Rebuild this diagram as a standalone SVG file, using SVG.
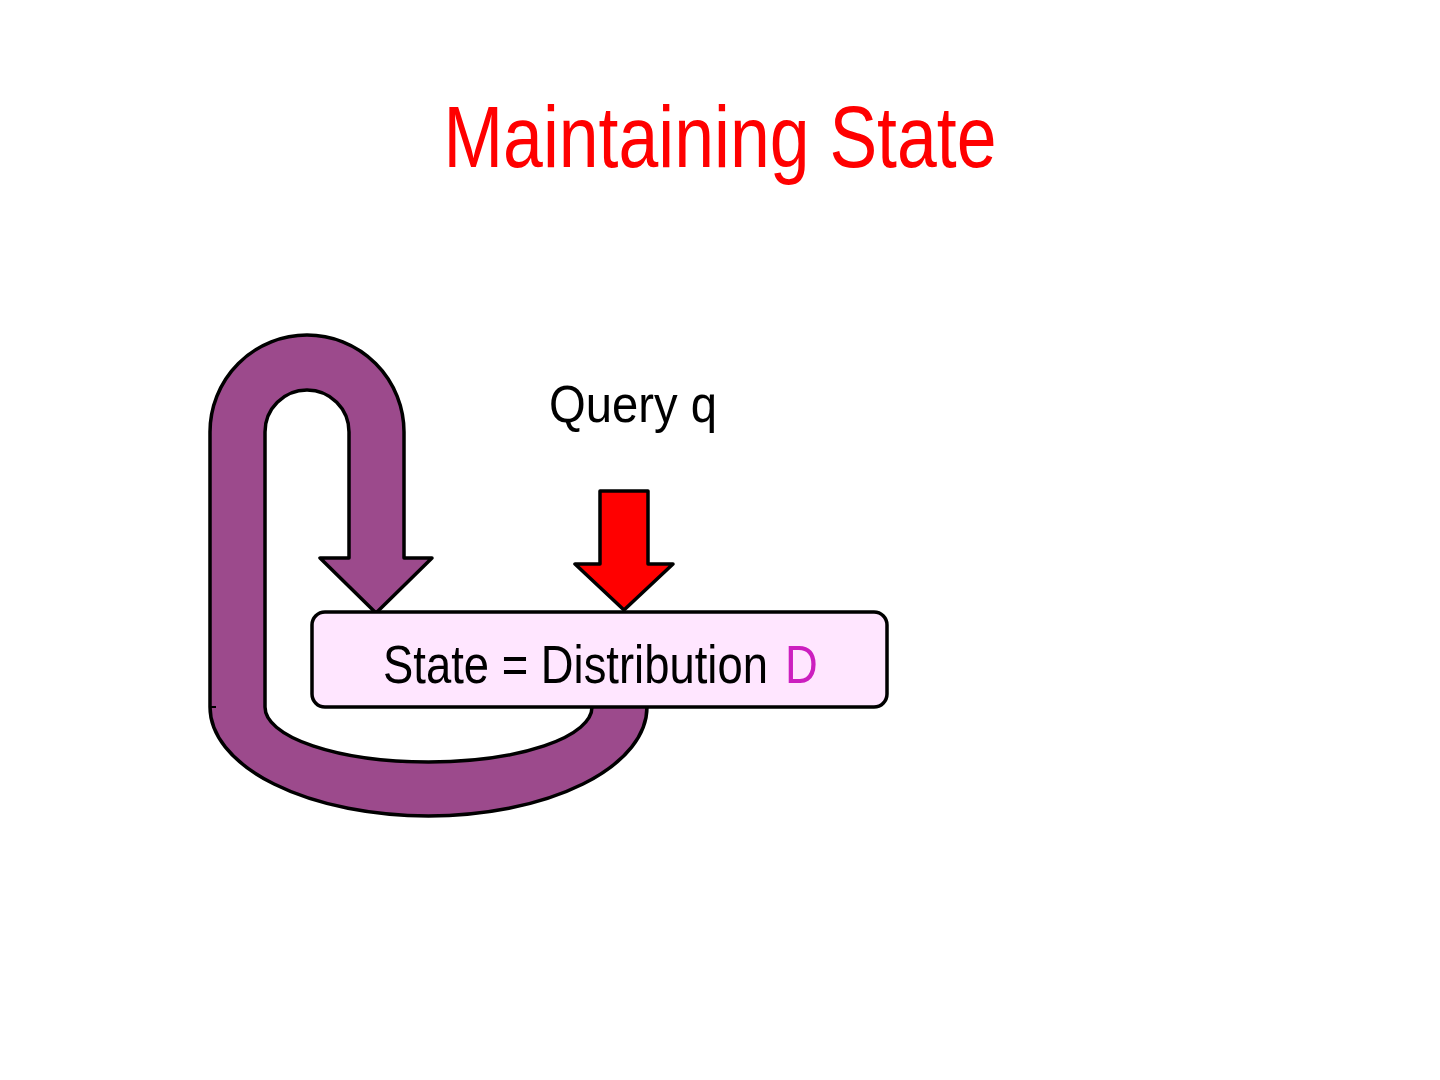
<svg xmlns="http://www.w3.org/2000/svg" width="1440" height="1080" viewBox="0 0 1440 1080">
  <style>
    .shape { stroke: #000; stroke-width: 3.5; stroke-linejoin: round; }
    .purple { fill: #9C4A8C; }
    .red { fill: #FF0000; }
    .lbl { font-family: "Liberation Sans", Arial, sans-serif; }
  </style>
  <rect width="1440" height="1080" fill="#fff"/>
  <text id="title" class="lbl" x="720" y="167" font-size="87" fill="#FF0000" text-anchor="middle" textLength="553" lengthAdjust="spacingAndGlyphs">Maintaining State</text>
  <g id="connectors">
    <path id="loop" class="shape purple" d="M210,707 L210,432 A97,97 0 0 1 404,432 L404,558 L432,558 L376,613 L320,558 L349,558 L349,432 A42,42 0 0 0 265,432 L265,707 A163.5,55 0 0 0 592,707 L592,690 L647,690 L647,707 A218.5,109 0 0 1 210,707 Z"/>
    <line x1="209" y1="707" x2="216" y2="707" stroke="#000" stroke-width="2"/>
    <path id="query-arrow" class="shape red" d="M600,491 L648,491 L648,564 L673,564 L624,610 L575,564 L600,564 Z"/>
  </g>
  <g id="query-label">
    <text class="lbl" x="549" y="422" font-size="52" fill="#000" textLength="168" lengthAdjust="spacingAndGlyphs">Query q</text>
  </g>
  <g id="state">
    <rect class="shape" x="312" y="612" width="575" height="95" rx="13" fill="#FFE6FF"/>
    <g transform="translate(383,683) scale(0.857,1)">
      <text class="lbl" x="0" y="0" font-size="53" fill="#000">State = Distribution</text>
      <text class="lbl" x="469" y="0" font-size="53" fill="#CC1FBF">D</text>
    </g>
  </g>
</svg>
